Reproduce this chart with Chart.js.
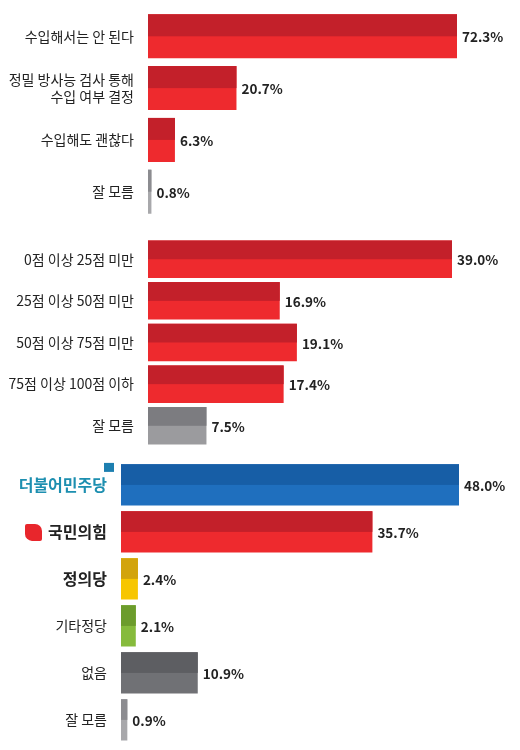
<!DOCTYPE html><html><head><meta charset="utf-8">
<script src="https://cdn.jsdelivr.net/npm/chart.js@4"></script>
<style>body{margin:0;background:#fff;width:520px;height:750px;position:relative;overflow:hidden}
.c{position:absolute;left:0;width:520px}</style></head><body>
<div class="c" style="top:-4px;height:236px"><canvas id="c1"></canvas></div>
<div class="c" style="top:224px;height:237px"><canvas id="c2"></canvas></div>
<div class="c" style="top:447px;height:312px"><canvas id="c3"></canvas></div>
<script>
const cats1=[["수입해서는 안 된다"],["정밀 방사능 검사 통해","수입 여부 결정"],["수입해도 괜찮다"],["잘 모름"]];
const vals1=[72.3,20.7,6.3,0.8];
const cats2=["0점 이상 25점 미만","25점 이상 50점 미만","50점 이상 75점 미만","75점 이상 100점 이하","잘 모름"];
const vals2=[39.0,16.9,19.1,17.4,7.5];
const cats3=["더불어민주당","국민의힘","정의당","기타정당","없음","잘 모름"];
const vals3=[48.0,35.7,2.4,2.1,10.9,0.9];
const R=["#ee2a2e","#c3202a"],G=["#9b9b9e","#7c7c80"],B=["#1f6fbe","#175ea6"],Y=["#f7c600","#d2a40c"],GR=["#86bb3c","#6c9c2c"],DG=["#707175","#5d5e62"],LG=["#a8a8ab","#8c8c90"];
const col1=[R,R,R,LG],col2=[R,R,R,R,G],col3=[B,R,Y,GR,DG,LG];
const two={id:'two',afterDatasetsDraw(ch){const ctx=ch.ctx,m=ch.getDatasetMeta(0),cols=ch.options.plugins.two.cols;
 m.data.forEach((b,i)=>{const h=b.height,l=Math.min(b.x,b.base),w=Math.abs(b.x-b.base);ctx.fillStyle=cols[i][1];ctx.fillRect(l,b.y-h/2,w,h/2);
 ctx.fillStyle='#222';ctx.font='bold 13.5px "Noto Sans CJK KR"';ctx.textBaseline='middle';ctx.textAlign='left';
 ctx.fillText(ch.data.datasets[0].data[i].toFixed(1)+'%',b.x+5,b.y+1);});
 if(ch.canvas.id==='c3'){const t=ch.scales.y;const y=t.getPixelForTick(1);ctx.fillStyle='#e8262c';ctx.beginPath();ctx.roundRect(25,y-8,17,17,[2,7,2,7]);ctx.fill();
  const y0=t.getPixelForTick(0);ctx.fillStyle='#1d7fb0';ctx.fillRect(104,y0-22,10,9);}
}};
function mk(id,cats,vals,cols,left,right,bp,tickCol){
 new Chart(document.getElementById(id),{type:'bar',data:{labels:cats,datasets:[{data:vals,backgroundColor:cols.map(c=>c[0]),barPercentage:bp,categoryPercentage:1}]},
 options:{indexAxis:'y',responsive:true,maintainAspectRatio:false,animation:false,layout:{padding:{right:right,top:0,bottom:0}},
 plugins:{legend:{display:false},tooltip:{enabled:false},two:{cols}},
 scales:{x:{display:false,min:0,max:Math.max(...vals)},
  y:{afterFit(s){s.width=left;},grid:{display:false},border:{display:false},
   ticks:{padding:6,color:tickCol||'#222',font:tickCol?(c)=>({family:'"Noto Sans CJK KR"',size:c.index<3?16:14,weight:c.index<3?'bold':'normal'}):{family:'"Noto Sans CJK KR"',size:14}}}}},
 plugins:[two]});}
mk('c1',cats1,vals1,col1,148,63,0.85);
mk('c2',cats2,vals2,col2,148,68,0.9);
mk('c3',cats3,vals3,col3,121,61,0.88,(c)=>c.index===0?'#1d8fb0':'#222');
</script></body></html>
